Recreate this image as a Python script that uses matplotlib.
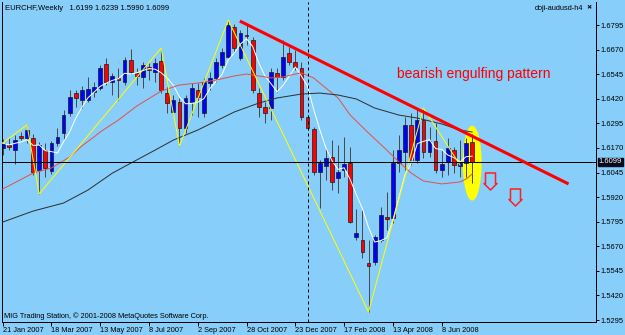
import matplotlib
matplotlib.use('Agg')
import matplotlib.pyplot as plt
import numpy as np
import pandas as pd
from matplotlib.path import Path
from matplotlib.patches import Ellipse

plt.rcParams['font.family'] = ['Liberation Sans', 'DejaVu Sans']

# EURCHF weekly candles, 21 Jan 2007 .. 13 Jul 2008 (bar index 0..77)
opens = [1.6170, 1.6185, 1.6159, 1.6231, 1.6220, 1.6220, 1.6058, 1.6159, 1.6053, 1.6195,
         1.6246, 1.6348, 1.6449, 1.6414, 1.6414, 1.6454, 1.6475, 1.6597, 1.6505, 1.6526,
         1.6505, 1.6617, 1.6551, 1.6531, 1.6581, 1.6556, 1.6612, 1.6449, 1.6353, 1.6403,
         1.6271, 1.6403, 1.6465, 1.6348, 1.6500, 1.6526, 1.6592, 1.6632, 1.6785, 1.6627,
         1.6744, 1.6719, 1.6449, 1.6378, 1.6373, 1.6551, 1.6531, 1.6653, 1.6607, 1.6576,
         1.6327, 1.6266, 1.6048, 1.6078, 1.6124, 1.6017, 1.6058, 1.6093, 1.5717, 1.5702,
         1.5585, 1.5590, 1.5702, 1.5819, 1.5814, 1.6093, 1.6149, 1.6287, 1.6109, 1.6312,
         1.6149, 1.6205, 1.6058, 1.6098, 1.6159, 1.6078, 1.6093, 1.6199]
highs = [1.6215, 1.6220, 1.6236, 1.6251, 1.6287, 1.6241, 1.6200, 1.6195, 1.6205, 1.6271,
         1.6363, 1.6465, 1.6465, 1.6485, 1.6531, 1.6505, 1.6592, 1.6627, 1.6551, 1.6576,
         1.6632, 1.6673, 1.6576, 1.6607, 1.6602, 1.6627, 1.6678, 1.6480, 1.6439, 1.6424,
         1.6439, 1.6500, 1.6500, 1.6526, 1.6556, 1.6627, 1.6678, 1.6820, 1.6800, 1.6770,
         1.6795, 1.6734, 1.6475, 1.6403, 1.6576, 1.6576, 1.6719, 1.6683, 1.6668, 1.6607,
         1.6337, 1.6276, 1.6109, 1.6170, 1.6210, 1.6185, 1.6226, 1.6175, 1.5859, 1.5854,
         1.5702, 1.5727, 1.5870, 1.5946, 1.6159, 1.6236, 1.6327, 1.6348, 1.6373, 1.6373,
         1.6276, 1.6297, 1.6159, 1.6220, 1.6175, 1.6210, 1.6220, 1.6239]
lows = [1.6134, 1.6159, 1.6088, 1.6210, 1.6195, 1.6032, 1.5936, 1.6022, 1.6037, 1.6180,
        1.6210, 1.6332, 1.6378, 1.6373, 1.6403, 1.6429, 1.6465, 1.6490, 1.6439, 1.6414,
        1.6490, 1.6546, 1.6490, 1.6475, 1.6515, 1.6505, 1.6449, 1.6348, 1.6337, 1.6180,
        1.6246, 1.6337, 1.6327, 1.6327, 1.6465, 1.6505, 1.6576, 1.6627, 1.6653, 1.6617,
        1.6693, 1.6449, 1.6327, 1.6297, 1.6312, 1.6454, 1.6515, 1.6592, 1.6566, 1.6312,
        1.6261, 1.6032, 1.5865, 1.6007, 1.5956, 1.5941, 1.6022, 1.5788, 1.5702, 1.5610,
        1.5336, 1.5575, 1.5692, 1.5753, 1.5788, 1.6048, 1.6058, 1.6083, 1.6093, 1.6119,
        1.6124, 1.6042, 1.6022, 1.6032, 1.6042, 1.6022, 1.6022, 1.5990]
closes = [1.6195, 1.6175, 1.6210, 1.6220, 1.6261, 1.6048, 1.6185, 1.6068, 1.6195, 1.6226,
          1.6337, 1.6429, 1.6424, 1.6465, 1.6470, 1.6480, 1.6576, 1.6505, 1.6536, 1.6515,
          1.6617, 1.6556, 1.6536, 1.6592, 1.6566, 1.6602, 1.6465, 1.6398, 1.6414, 1.6271,
          1.6424, 1.6475, 1.6429, 1.6505, 1.6526, 1.6607, 1.6658, 1.6795, 1.6678, 1.6754,
          1.6739, 1.6465, 1.6378, 1.6348, 1.6556, 1.6531, 1.6632, 1.6607, 1.6581, 1.6327,
          1.6271, 1.6048, 1.6093, 1.6119, 1.5997, 1.6048, 1.6088, 1.5793, 1.5737, 1.5641,
          1.5570, 1.5717, 1.5829, 1.5809, 1.6093, 1.6159, 1.6287, 1.6109, 1.6312, 1.6149,
          1.6205, 1.6058, 1.6088, 1.6170, 1.6083, 1.6093, 1.6195, 1.6099]

# slower moving averages (bar index, price)
red_ma_idx = [0, 5, 8, 11, 13, 15, 16, 19, 22, 26, 29, 32, 35, 38, 40, 42, 44, 46, 48, 49,
              51, 52, 55, 57, 60, 63, 65, 67, 69, 72, 75, 76, 77]
red_ma = [1.5961, 1.6042, 1.6068, 1.6124, 1.6180, 1.6226, 1.6251, 1.6312, 1.6383, 1.6459,
          1.6490, 1.6500, 1.6515, 1.6536, 1.6546, 1.6536, 1.6526, 1.6531, 1.6546, 1.6551,
          1.6526, 1.6500, 1.6424, 1.6337, 1.6246, 1.6159, 1.6098, 1.6042, 1.6002, 1.5987,
          1.5997, 1.6012, 1.6037]
gray_ma_idx = [0, 5, 10, 14, 18, 22, 25, 28, 32, 35, 38, 42, 45, 49, 52, 55, 58, 61, 65,
               68, 72, 75, 77]
gray_ma = [1.5793, 1.5849, 1.5890, 1.5956, 1.6042, 1.6109, 1.6159, 1.6210, 1.6261, 1.6307,
           1.6353, 1.6398, 1.6424, 1.6444, 1.6449, 1.6439, 1.6419, 1.6373, 1.6337, 1.6322,
           1.6292, 1.6261, 1.6251]

# zigzag turning points
zz_idx = [0, 4, 6, 26, 29, 37, 60, 69, 75]
zz_price = [1.6195, 1.6287, 1.5936, 1.6678, 1.6180, 1.6820, 1.5336, 1.6373, 1.6083]

# hand drawn trend line and signal arrows
trend_idx = [38.9, 92.8]
trend_price = [1.6815, 1.5987]
arrow_idx = [80, 84]
arrow_price = [1.6000, 1.5923]

last_price = 1.6099
price_ticks = [1.6795, 1.6670, 1.6545, 1.6420, 1.6295, 1.6170, 1.6045, 1.5920,
               1.5795, 1.5670, 1.5545, 1.5420, 1.5295]
date_pos = [0, 8, 16, 24, 32, 40, 48, 56, 64, 72]
date_labels = ['21 Jan 2007', '18 Mar 2007', '13 May 2007', '8 Jul 2007', '2 Sep 2007',
               '28 Oct 2007', '23 Dec 2007', '17 Feb 2008', '13 Apr 2008', '8 Jun 2008']

BG = '#87CEFA'
px = 0.72  # one pixel in points at dpi 100

fig = plt.figure(figsize=(6.25, 3.35), dpi=100, facecolor=BG)
ax = fig.add_axes([2 / 625, 13 / 335, 594 / 625, 320 / 335], facecolor=BG)

x = np.arange(len(opens))
o = np.array(opens)
c = np.array(closes)
up = c >= o

# highlight ellipse behind the last bars
ax.add_patch(Ellipse((77, 1.6093), 3.1, 0.0381, facecolor='#FFFF00',
                     edgecolor='none', zorder=1))

# candles
ax.vlines(x, lows, highs, color='#4a4a4a', lw=px, zorder=2)
body_lo = np.minimum(o, c)
body_h = np.maximum(np.abs(c - o), 0.00012)
ax.bar(x, body_h, bottom=body_lo, width=0.62,
       color=np.where(up, '#0000FF', '#FF0000'), edgecolor='#1a1a1a',
       linewidth=0.5, zorder=2)

# indicators
white_ma = pd.Series(closes).rolling(5, min_periods=1).mean()
ax.plot(x, white_ma, color='white', lw=px, zorder=3)
ax.plot(red_ma_idx, red_ma, color='#E8504A', lw=px, zorder=3)
ax.plot(gray_ma_idx, gray_ma, color='#303030', lw=px, zorder=3)
ax.plot(zz_idx, zz_price, color='#FFFF00', lw=px, zorder=3)

# price line and year separator
ax.axhline(last_price, color='black', lw=px, zorder=3)
ax.axvline(50, color='black', lw=px, ls=(0, (3, 3)), zorder=3)

# trend line
ax.plot(trend_idx, trend_price, color='#FF0000', lw=2.2, solid_capstyle='butt', zorder=4)

# down arrow signals
arrow_path = Path([(-5, 8.5), (5, 8.5), (5, -2), (6.5, -2), (0, -8.5), (-6.5, -2),
                   (-5, -2), (-5, 8.5)], closed=True)
ax.plot(arrow_idx, arrow_price, ls='none', marker=arrow_path, markersize=17 * px,
        markerfacecolor='none', markeredgecolor='#FF2020', markeredgewidth=1.1, zorder=4)

ax.text(64.6, 1.6545, 'bearish engulfing pattern', color='#FF0000', fontsize=10,
        ha='left', va='center', zorder=5)

ax.set_xlim(-0.1, 97.3)
ax.set_ylim(1.5285, 1.6912)

ax.yaxis.tick_right()
ax.set_yticks(price_ticks)
ax.set_yticklabels([f'{p:.4f}' for p in price_ticks])
ax.set_xticks(date_pos)
ax.set_xticklabels(date_labels)
for lab in ax.get_xticklabels():
    lab.set_ha('left')
ax.tick_params(axis='y', direction='out', length=2, width=px, pad=1.5,
               labelsize=5.4, colors='black')
ax.tick_params(axis='x', direction='out', length=3, width=px, pad=0.5,
               labelsize=5.3, colors='black')

for side in ['left', 'right', 'bottom']:
    ax.spines[side].set_color('black')
    ax.spines[side].set_linewidth(px)
ax.spines['top'].set_visible(False)

# current price marker on the axis
ax.text(97.75, last_price, '1.6099', color='white', fontsize=5.4, ha='left', va='center',
        clip_on=False, bbox=dict(facecolor='#0a0a1e', edgecolor='#0a0a1e', pad=0.6), zorder=6)

fig.text(5 / 625, 1 - 8 / 335, 'EURCHF,Weekly   1.6199 1.6239 1.5990 1.6099',
         fontsize=5.5, ha='left', va='center', color='black')
fig.text(583 / 625, 1 - 8 / 335, 'doji-audusd-h4', fontsize=5.3, ha='right', va='center',
         color='black')
fig.text(589 / 625, 1 - 8 / 335, '\u2716', fontsize=4.5, ha='center', va='center',
         color='#222222', family=['DejaVu Sans'])
fig.text(4 / 625, 1 - 316 / 335,
         'MIG Trading Station, \u00a9 2001-2008 MetaQuotes Software Corp.',
         fontsize=5.3, ha='left', va='center', color='black')

fig.savefig('out.png', dpi=100, facecolor=BG)
